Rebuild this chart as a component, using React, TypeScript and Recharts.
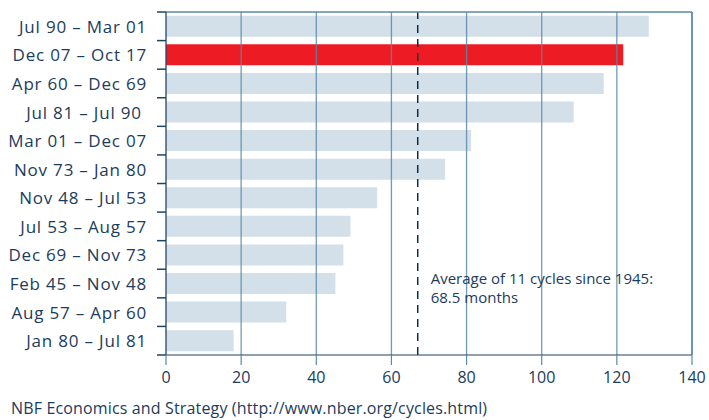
import { BarChart, Bar, Cell, XAxis, YAxis, ReferenceLine } from 'recharts';

const cycles = [
  'Jul 90 – Mar 01',
  'Dec 07 – Oct 17',
  'Apr 60 – Dec 69',
  'Jul 81 – Jul 90\u00a0',
  'Mar 01 – Dec 07',
  'Nov 73 – Jan 80',
  'Nov 48 – Jul 53',
  'Jul 53 – Aug 57',
  'Dec 69 – Nov 73',
  'Feb 45 – Nov 48',
  'Aug 57 – Apr 60',
  'Jan 80 – Jul 81',
];
const months = [128.5, 121.7, 116.5, 108.5, 81.2, 74.3, 56.2, 49.1, 47.2, 45.1, 32, 18];
const current = 'Dec 07 – Oct 17';
const xTicks = [0, 20, 40, 60, 80, 100, 120, 140];
const gridTicks = [20, 40, 60, 80, 100, 120, 140];
const average = 67;
const averageNote = ['Average of 11 cycles since 1945:', '68.5 months'];
const source = 'NBF Economics and Strategy (http://www.nber.org/cycles.html)';

const data = cycles.map((name, i) => ({ name, months: months[i] }));

const FONT = '"Open Sans", sans-serif';
const TEXT = '#1c3c5b';
const AXIS = '#1f4565';
const GRID = '#5b88a7';
// axes with zero size are skipped by recharts, so use a hair
const HAIR = 0.01;
// length of the row-edge marks, in months (about 9px)
const MARK = 2.4;

const CycleTick = (props: any) => {
  const { x, y, payload } = props;
  return (
    <text
      x={x}
      y={y}
      textAnchor="end"
      dominantBaseline="central"
      fill={TEXT}
      fontSize={17}
      letterSpacing={0.8}
      fontFamily={FONT}
    >
      {payload.value}
    </text>
  );
};

const AverageLabel = (props: any) => {
  const { x, y } = props.viewBox;
  return (
    <text x={x + 13} y={y + 272} fill={TEXT} fontSize={15} fontFamily={FONT}>
      <tspan x={x + 13}>{averageNote[0]}</tspan>
      <tspan x={x + 13} dy={18.5}>{averageNote[1]}</tspan>
    </text>
  );
};

export default function App() {
  const lastCycle = cycles[cycles.length - 1];
  return (
    <div style={{ position: 'absolute', left: 0, top: 0, width: 709, height: 420, background: '#fff' }}>
      <BarChart
        width={709}
        height={420}
        data={data}
        layout="vertical"
        margin={{ top: 12, right: 17, bottom: 35, left: 166 }}
        barCategoryGap="13%"
      >
        <XAxis
          xAxisId="x"
          type="number"
          domain={[0, 140]}
          ticks={xTicks}
          tickSize={10}
          tickMargin={7}
          height={30}
          axisLine={{ stroke: AXIS, strokeWidth: 1.2 }}
          tickLine={{ stroke: GRID, strokeWidth: 1.2 }}
          tick={{ fill: TEXT, fontSize: 16, fontFamily: FONT }}
        />
        <XAxis
          xAxisId="top"
          orientation="top"
          type="number"
          domain={[0, 140]}
          height={HAIR}
          tick={false}
          tickLine={false}
          axisLine={{ stroke: GRID, strokeWidth: 1.5 }}
        />
        <YAxis
          yAxisId="cat"
          type="category"
          dataKey="name"
          width={HAIR}
          tickLine={false}
          tickSize={9}
          tickMargin={10}
          axisLine={{ stroke: AXIS, strokeWidth: 1.3 }}
          tick={CycleTick}
          interval={0}
        />
        <YAxis
          yAxisId="right"
          orientation="right"
          type="number"
          domain={[0, 1]}
          width={HAIR}
          tick={false}
          tickLine={false}
          axisLine={{ stroke: GRID, strokeWidth: 1.5 }}
        />
        <Bar dataKey="months" xAxisId="x" yAxisId="cat" isAnimationActive={false}>
          {data.map((d) => (
            <Cell key={d.name} fill={d.name === current ? '#ed1c24' : '#d3dfe9'} />
          ))}
        </Bar>
        {gridTicks.map((t) => (
          <ReferenceLine key={t} x={t} xAxisId="x" yAxisId="right" stroke={GRID} strokeWidth={1.3} strokeOpacity={0.85} />
        ))}
        {/* short marks on the row boundaries, left of the axis */}
        {cycles.map((c) => (
          <ReferenceLine
            key={`edge-${c}`}
            xAxisId="x"
            yAxisId="cat"
            segment={[{ x: -MARK, y: c }, { x: 0, y: c }]}
            position="start"
            ifOverflow="visible"
            stroke={AXIS}
            strokeWidth={1.5}
          />
        ))}
        <ReferenceLine
          xAxisId="x"
          yAxisId="cat"
          segment={[{ x: -MARK, y: lastCycle }, { x: 0, y: lastCycle }]}
          position="end"
          ifOverflow="visible"
          stroke={AXIS}
          strokeWidth={1.5}
        />
        <ReferenceLine
          x={average}
          xAxisId="x"
          yAxisId="right"
          stroke="#0e2c48"
          strokeWidth={1.5}
          strokeDasharray="8 6"
          label={<AverageLabel />}
        />
      </BarChart>
      <div
        style={{
          position: 'absolute',
          left: 11,
          top: 397,
          fontFamily: FONT,
          fontSize: 16,
          letterSpacing: 0.15,
          color: TEXT,
          whiteSpace: 'nowrap',
        }}
      >
        {source}
      </div>
    </div>
  );
}
